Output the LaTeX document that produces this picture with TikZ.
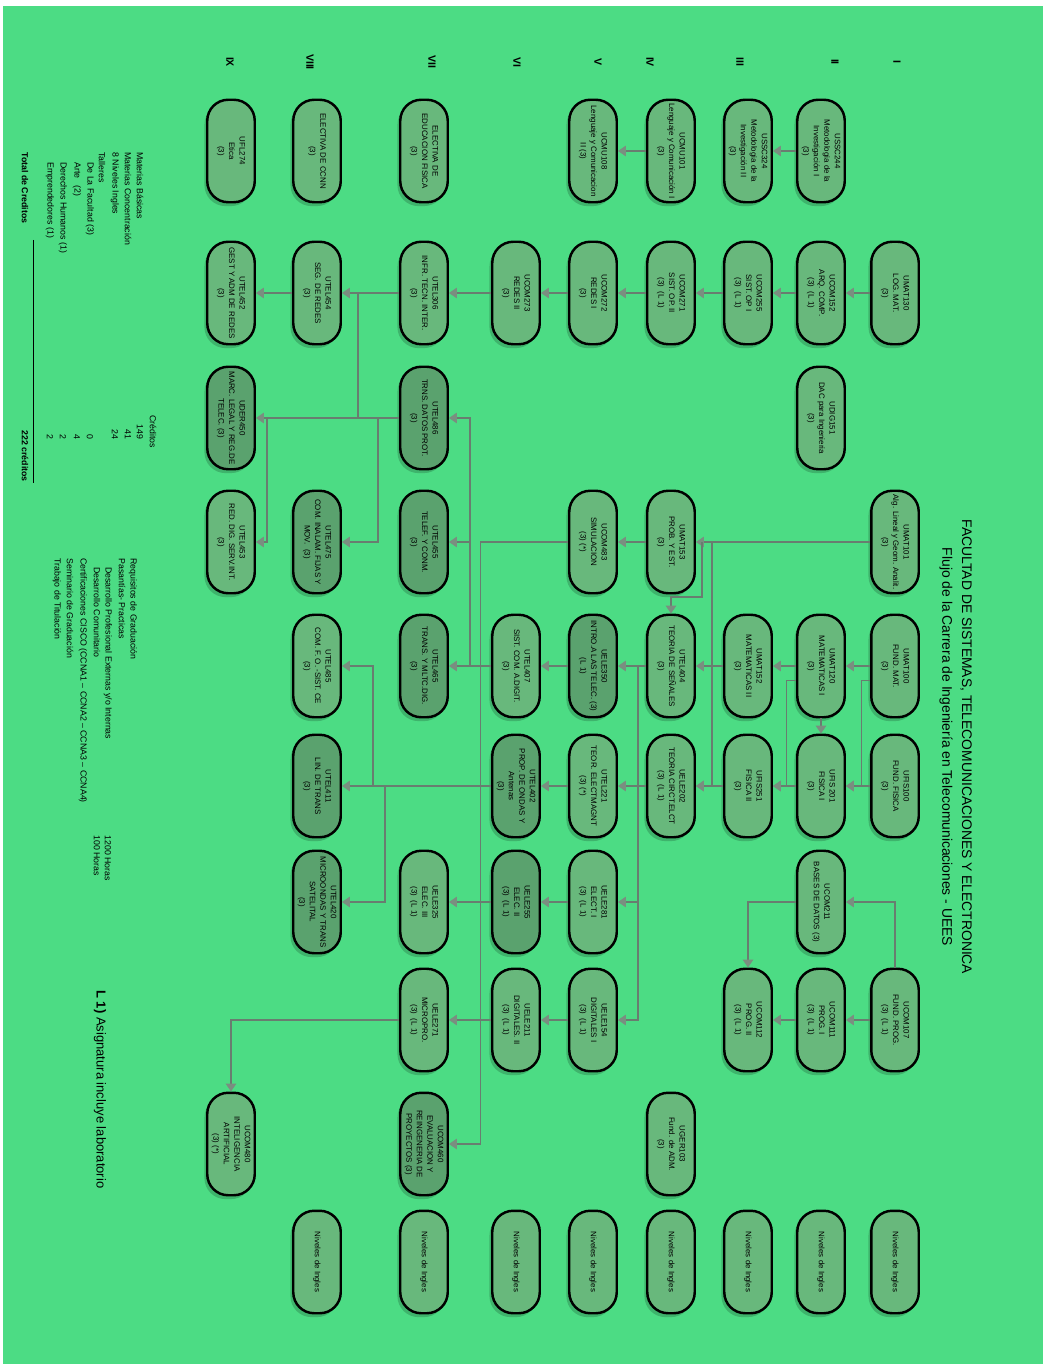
\documentclass[tikz,border=0pt]{standalone}
\usepackage{fontspec}
\setmainfont{Liberation Sans}
\usetikzlibrary{arrows.meta}
\definecolor{paper}{RGB}{76,220,132}
\definecolor{boxfill}{RGB}{104,184,124}
\definecolor{boxdark}{RGB}{90,162,110}
\definecolor{wirecol}{RGB}{105,125,112}
\definecolor{tipcol}{RGB}{122,142,128}

\begin{document}
\begin{tikzpicture}[x=0.02cm,y=-0.02cm,
  course/.style={draw=black,line width=1.4pt,rounded corners=0.42cm,fill=boxfill,
    minimum width=2.05cm,minimum height=0.95cm,inner sep=1pt,align=center,rotate=-90,
    font=\fontsize{4.5}{6}\selectfont,
    preaction={fill=black,opacity=.18,draw=none,transform canvas={xshift=-1.6pt,yshift=-2.2pt}}},
  coursedk/.style={course,fill=boxdark},
  link/.style={draw=wirecol,line width=0.6pt,-{Triangle[width=6pt,length=4.5pt,color=tipcol]}},
  wire/.style={draw=wirecol,line width=0.6pt},
  lvl/.style={rotate=-90,font=\fontsize{6}{7}\selectfont\bfseries},
  heading/.style={rotate=-90,font=\fontsize{7.9}{9}\selectfont},
  legend/.style={rotate=-90,anchor=west,inner sep=0pt,font=\fontsize{5}{6}\selectfont},
  count/.style={legend,anchor=east}]
\useasboundingbox (0,0) rectangle (1043,1364);
\fill[white] (0,0) rectangle (1043,1364);
\fill[paper] (3,6) rectangle (1043,1364);

\node[heading] (tit1) at (966,747) {FACULTAD DE SISTEMAS, TELECOMUNICACIONES Y ELECTRONICA};
\node[heading] (tit2) at (946,747) {Flujo de la Carrera de Ingeniería en Telecomunicaciones - UEES};

\foreach \n/\x/\lab in {1/897/I,2/835/II,3/740/III,4/650/IV,5/598/V,6/517/VI,7/432/VII,8/310/VIII,9/230/IX}
  \node[lvl] (lev\n) at (\x,62) {\lab};

% level I
\node[course] (umat130) at (895,293) {UMAT130\\LOG. MAT.\\(3)};
\node[course] (umat101) at (895,542) {UMAT101\\Alg. Lineal y Geom. Analit.\\(3)};
\node[course] (umat100) at (895,666) {UMAT100\\FUND. MAT.\\(3)};
\node[course] (ufis100) at (895,786) {UFIS100\\FUND. FISICA\\(3)};
\node[course] (ucom107) at (895,1020) {UCOM107\\FUND. PROG.\\(3)~~(L 1)};
% level II
\node[course] (ussc244) at (821,151) {USSC244\\Metodologia de la\\Investigación I\\(3)};
\node[course] (ucom152) at (821,293) {UCOM152\\ARQ. COMP.\\(3)~~(L 1)};
\node[course] (udig151) at (821,418) {UDIG151\\DAC para Ingenieria\\(3)};
\node[course] (umat120) at (821,666) {UMAT120\\MATEMATICAS I\\(3)};
\node[course] (ufis201) at (821,786) {UFIS 201\\FISICA I\\(3)};
\node[course] (ucom211) at (821,902) {UCOM211\\BASES DE DATOS (3)};
\node[course] (ucom111) at (821,1020) {UCOM111\\PROG. I\\(3)~~(L 1)};
% level III
\node[course] (ussc324) at (748,151) {USSC324\\Metodologia de la\\Investigación II\\(3)};
\node[course] (ucom255) at (748,293) {UCOM255\\SIST. OP I\\(3)~~(L 1)};
\node[course] (umat152) at (748,666) {UMAT152\\MATEMATICAS II\\(3)};
\node[course] (ufis251) at (748,786) {UFIS251\\FISICA II\\(3)};
\node[course] (ucom112) at (748,1020) {UCOM112\\PROG. II\\(3)~~(L 1)};
% level IV
\node[course] (ucmu101) at (671,151) {UCMU101\\Lenguaje y Comunicación I\\(3)};
\node[course] (ucom271) at (671,293) {UCOM271\\SIST. OP. II\\(3)~~(L 1)};
\node[course] (umat153) at (671,542) {UMAT153\\PROB. Y EST.\\(3)};
\node[course] (utel404) at (671,666) {UTEL404\\TEORIA DE SEÑALES\\(3)};
\node[course] (uele202) at (671,786) {UELE202\\TEORIA CIRCT.ELCT\\(3)~~(L 1)};
\node[course] (uger103) at (671,1144) {UGER103\\Fund. de ADM.\\(3)};
% level V
\node[course] (ucmu108) at (593,151) {UCMU108\\Lenguaje y Comunicacion\\II (3)};
\node[course] (ucom272) at (593,293) {UCOM272\\REDES I\\(3)};
\node[course] (ucom483) at (593,542) {UCOM483\\SIMULACION\\(3) (*)};
\node[coursedk] (uele350) at (593,666) {UELE350\\INTRO.A LAS TELEC. (3)\\(L 1)};
\node[course] (utel221) at (593,786) {UTEL221\\TEOR. ELECTMAGNT\\(3) (*)};
\node[course] (uele281) at (593,902) {UELE281\\ELECT. I\\(3)~~(L 1)};
\node[course] (uele154) at (593,1020) {UELE154\\DIGITALES I\\(3)~~(L 1)};
% level VI
\node[course] (ucom273) at (516,293) {UCOM273\\REDES II\\(3)};
\node[course] (utel407) at (516,666) {UTEL407\\SIST. COM. A.DIGIT.\\(3)};
\node[coursedk] (utel402) at (516,786) {UTEL402\\PROP. DE ONDAS Y\\Antenas\\(3)};
\node[coursedk] (uele255) at (516,902) {UELE255\\ELEC. II\\(3)~~(L 1)};
\node[course] (uele211) at (516,1020) {UELE211\\DIGITALES. II\\(3)~~(L 1)};
% level VII
\node[course] (edfis) at (424,151) {ELECTIVA DE\\EDUCACION FISICA\\(3)};
\node[course] (utel306) at (424,293) {UTEL306\\INFR. TECN. INTER.\\(3)};
\node[coursedk] (utel486) at (424,418) {UTEL486\\TRNS. DATOS PROT.\\(3)};
\node[coursedk] (utel455) at (424,542) {UTEL455\\TELEF. Y CONM.\\(3)};
\node[coursedk] (utel465) at (424,666) {UTEL465\\TRANS. Y MLTC.DIG.\\(3)};
\node[course] (uele325) at (424,902) {UELE325\\ELEC. III\\(3)~~(L 1)};
\node[course] (uele271) at (424,1020) {UELE271\\MICROPRO.\\(3)~~(L 1)};
\node[coursedk] (ucom460) at (424,1144) {UCOM460\\EVALUACION Y\\REINGENERIA DE\\PROYECTOS (3)};
% level VIII
\node[course] (ccnn) at (317,151) {ELECTIVA DE CCNN\\(3)};
\node[course] (utel454) at (317,293) {UTEL454\\SEG. DE REDES\\(3)};
\node[coursedk] (utel475) at (317,542) {UTEL475\\COM. INALAM. FIJAS Y\\MOV.~~(3)};
\node[course] (utel485) at (317,666) {UTEL485\\COM. F. O. -SIST. CE\\(3)};
\node[coursedk] (utel411) at (317,786) {UTEL411\\LIN. DE TRANS\\(3)};
\node[coursedk] (utel420) at (317,902) {UTEL420\\MICROONDAS Y TRANS\\SATELITAL\\(3)};
% level IX
\node[course] (ufl274) at (231,151) {UFL274\\Etica\\(3)};
\node[course] (utel452) at (231,293) {UTEL452\\GEST Y ADM DE REDES\\(3)};
\node[coursedk] (uder450) at (231,418) {UDER450\\MARC. LEGAL Y REG.DE\\TELEC. (3)};
\node[course] (utel453) at (231,542) {UTEL453\\RED. DIG. SERV.INT.\\(3)};
\node[course] (ucom480) at (231,1144) {UCOM480\\INTELIGENCIA\\ARTIFICIAL\\(3) (*)};
% english levels
\foreach \n/\x in {1/895,2/821,3/748,4/671,5/593,6/516,7/424,8/317}
  \node[course] (ing\n) at (\x,1262) {Niveles de Ingles};

% straight prerequisites
\foreach \a/\b in {ussc244/ussc324,umat130/ucom152,ucom152/ucom255,ucom255/ucom271,
    ucom271/ucom272,ucom272/ucom273,ucom273/utel306,utel306/utel454,utel454/utel452,
    ucmu101/ucmu108,umat101/umat153,umat153/ucom483,umat100/umat120,umat120/umat152,
    umat152/utel404,utel404/uele350,uele350/utel407,utel407/utel465,ufis100/ufis201,
    ufis201/ufis251,ufis251/uele202,uele202/utel221,utel221/utel402,utel402/utel411,
    uele281/uele255,uele255/uele325,ucom107/ucom111,ucom111/ucom112,uele154/uele211,
    uele211/uele271,utel486/uder450}
  \draw[link] (\a.south) -- (\b.north);
\draw[link] (umat120.east) -- (ufis201.west);

% branches
\coordinate (jalg) at (702,542);
\coordinate (jalgb) at (712,542);
\coordinate (jsen) at (638,666);
\coordinate (jsis) at (470,666);
\coordinate (jdat) at (378,418);
\coordinate (jdatb) at (267,418);
\coordinate (jinf) at (358,293);
\coordinate (jond) at (385,786);
\coordinate (jondb) at (373,786);
\draw[link] (jalg) -- ++(0,55) -| (utel404.west);
\draw[link] (jalgb) |- (uele202.north);
\draw[link] ([yshift=-8pt]umat100.south) -- ++(-9,0) |- (ufis201.north);
\draw[link] ([yshift=-8pt]umat120.south) -- ++(-10,0) |- (ufis251.north);
\draw[link] (ucom107.west) |- (ucom211.north);
\draw[link] (ucom211.south) -| (ucom112.west);
\draw[link] (uele271.south) -| (ucom480.west);
\draw[link] (ucom483.south) -- ++(-88,0) |- (ucom460.north);
\draw[link] (jsen) |- (uele281.north);
\draw[link] (jsen) |- (uele154.north);
\draw[link] (jsis) |- (utel455.north);
\draw[link] (jsis) |- (utel486.north);
\draw[link] (jdat) |- (utel475.north);
\draw[link] (jdatb) |- (utel453.north);
\draw[wire] (jinf) -- (jinf |- utel486.south);
\draw[link] (jond) |- (utel420.north);
\draw[link] (jondb) |- (utel485.north);

% credits
\node[legend] (mb) at (140,152) {Materias Básicas};
\node[legend] (mc) at (128,152) {Materias Concentración};
\node[legend] (ni) at (115,152) {8 Niveles Ingles};
\node[legend] (ta) at (102,152) {Talleres};
\node[legend] (tf) at (90,162) {De La Facultad (3)};
\node[legend] (tr) at (77,162) {Arte~~~(2)};
\node[legend] (th) at (63,162) {Derechos Humanos (1)};
\node[legend] (te) at (50,162) {Emprendedores (1)};
\node[legend,font=\fontsize{5}{6}\selectfont\bfseries] (tot) at (25,152) {Total de Creditos};
\node[legend] (cr) at (153,415) {Créditos};
\foreach \n/\x/\v in {1/140/149,2/128/41,3/115/24,4/90/0,5/77/4,6/63/2,7/50/2}
  \node[count] (cv\n) at (\x,440) {\v};
\node[count,font=\fontsize{5}{6}\selectfont\bfseries] (ctot) at (25,482) {222 créditos};
\draw[black,line width=0.5pt] (33,240) -- (33,483);

% graduation
\begin{scope}[every node/.append style={font=\fontsize{5}{6}\selectfont\bfseries}]
\node[legend] (rq) at (133,558) {Requisitos de Graduación};
\node[legend] (pa) at (122,558) {Pasantías- Practicas};
\node[legend] (ce) at (83,558) {Certificaciones CISCO (CCNA1 -- CCNA2 -- CCNA3 -- CCNA4)};
\node[legend] (se) at (70,558) {Seminario de Graduación};
\node[legend] (tt) at (57,558) {Trabajo de Titulación};
\end{scope}
\node[legend] (dp) at (108,567) {Desarrollo Profesional Externas y/o Internas};
\node[legend] (dc) at (97,567) {Desarrollo Comunitario};
\node[legend] (hp) at (108,835) {1200 Horas};
\node[legend] (hc) at (97,835) {100 Horas};
\node[legend,font=\fontsize{7.4}{9}\selectfont] (lab) at (100,990) {\textbf{L 1)} Asignatura incluye laboratorio};
\end{tikzpicture}
\end{document}
